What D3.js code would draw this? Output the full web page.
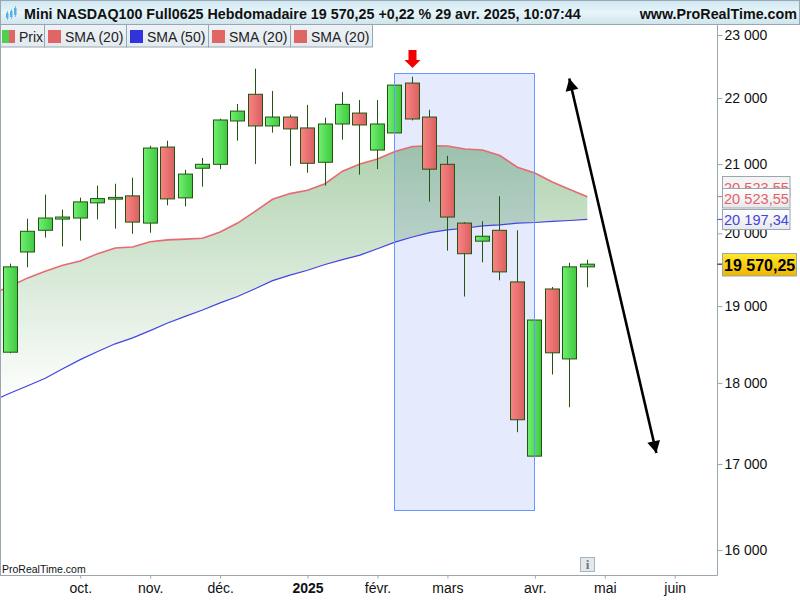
<!DOCTYPE html>
<html>
<head>
<meta charset="utf-8">
<script src="https://cdn.jsdelivr.net/npm/d3@7"></script>
<style>
html, body { margin: 0; padding: 0; background: #fff; }
svg { display: block; font-family: "Liberation Sans", Arial, sans-serif; }
</style>
</head>
<body>
<div id="chart"></div>
<script>
// weekly candles
var candleOpen = [18393, 19739, 20043, 20202, 20217, 20434, 20488, 20535, 20145, 21254, 20506, 20939, 20997, 21648, 22059, 21572, 21708, 21542, 21027, 21602, 21769, 21209, 21466, 22234, 21708, 20997, 20145, 19890, 20043, 19327, 17094, 19231, 18306, 19533];
var candleHigh = [19578, 20207, 20553, 20337, 20510, 20683, 20712, 20799, 21274, 21349, 20915, 21092, 21682, 21909, 22461, 22111, 21743, 21894, 21697, 22095, 21970, 21970, 22207, 22334, 21819, 21123, 20159, 20173, 20529, 20043, 18815, 19258, 19588, 19629];
var candleLow = [18379, 19528, 19940, 19816, 19898, 20197, 20066, 19994, 20009, 20399, 20384, 20669, 20926, 21349, 21002, 21471, 20973, 20872, 20683, 21365, 20844, 20926, 21466, 21657, 20452, 19757, 19129, 19596, 19349, 17385, 17094, 18106, 17693, 19253];
var candleClose = [19533, 20029, 20217, 20231, 20448, 20496, 20513, 20159, 21239, 20491, 20853, 20997, 21663, 21799, 21572, 21708, 21527, 21012, 21602, 21903, 21587, 21602, 22202, 21678, 20925, 20231, 19715, 19959, 19464, 17538, 18815, 18385, 19533, 19570.25];

// moving averages start one week before the first visible candle
var smaRed = [19173, 19267, 19382, 19473, 19555, 19615, 19716, 19794, 19808, 19881, 19908, 19918, 19931, 20019, 20145, 20312, 20486, 20568, 20616, 20712, 20896, 21002, 21077, 21188, 21263, 21274, 21269, 21224, 21209, 21128, 20954, 20867, 20737, 20626, 20523.55];
var smaBlue = [17776, 17871, 17964, 18059, 18180, 18297, 18402, 18502, 18580, 18675, 18776, 18864, 18949, 19043, 19129, 19235, 19345, 19420, 19486, 19565, 19633, 19695, 19784, 19876, 19949, 20009, 20048, 20072, 20105, 20120, 20145, 20153, 20168, 20182, 20197.34];

var priceTicks = [16000, 17000, 18000, 19000, 20000, 21000, 22000, 23000];
var monthTicks = [4, 8, 12, 17, 21, 25, 30, 34, 38];
var monthLabels = ["oct.", "nov.", "déc.", "2025", "févr.", "mars", "avr.", "mai", "juin"];
var legendNames = ["SMA (20)", "SMA (50)", "SMA (20)", "SMA (20)"];
var legendColors = ["#e06666", "#3333dd", "#e06666", "#e06666"];

// drawn zone and arrows, as [candle index, price]
var zoneCorners = [[21.97, 22390], [29.98, 16451]];
var arrowEnds = [[36.95, 17131], [31.97, 22305]];

var plotRight = 717.5, plotBottom = 575.5, legendBottom = 47;
var frameColor = "#9aa7b0", wickColor = "#225511";

var svg = d3.select("#chart").append("svg").attr("width", 800).attr("height", 600);
var defs = svg.append("defs");

function addGradient(id, horizontal, stops){
	var g = defs.append("linearGradient").attr("id", id)
		.attr("x1", 0).attr("y1", 0)
		.attr("x2", horizontal ? 1 : 0).attr("y2", horizontal ? 0 : 1);
	stops.forEach(function(s){
		g.append("stop").attr("offset", s[0]).attr("stop-color", s[1]);
	});
}
addGradient("upFill", true, [[0, "#70f070"], [1, "#40c840"]]);
addGradient("downFill", true, [[0, "#fa8484"], [1, "#d86060"]]);
addGradient("headFill", false, [[0, "#cfe6f1"], [0.5, "#e6f6fa"], [1, "#cfe3ec"]]);
addGradient("boxFill", false, [[0, "#ffffff"], [1, "#e8e8e8"]]);
addGradient("tagFill", false, [[0, "#ffe82a"], [1, "#eeb400"]]);
addGradient("legendFill", false, [[0, "#edf2f6"], [1, "#e3eaf0"]]);

var x = d3.scaleLinear().domain([0, 33]).range([10.3, 587.3]);
var y = d3.scaleLog().domain([16000, 23000]).range([550, 35]);

defs.append("clipPath").attr("id", "plotClip").append("rect")
	.attr("x", 1).attr("y", legendBottom).attr("width", plotRight - 1).attr("height", plotBottom - legendBottom);

var grad = defs.append("linearGradient").attr("id", "areaFill")
	.attr("gradientUnits", "userSpaceOnUse")
	.attr("x1", 0).attr("x2", 0)
	.attr("y1", y(d3.max(smaRed))).attr("y2", y(d3.min(smaBlue)));
grad.append("stop").attr("offset", 0).attr("stop-color", "#afd2af");
grad.append("stop").attr("offset", 1).attr("stop-color", "#ffffff");

var plot = svg.append("g").attr("clip-path", "url(#plotClip)").style("isolation", "isolate");

// blue zone fill goes under the area, its border over the candles
var zoneX = Math.round(x(zoneCorners[0][0])) + 0.5;
var zoneY = Math.round(y(zoneCorners[0][1])) + 0.5;
var zoneW = Math.round(x(zoneCorners[1][0]) - x(zoneCorners[0][0]));
var zoneH = Math.round(y(zoneCorners[1][1]) - y(zoneCorners[0][1]));
plot.append("rect").attr("x", zoneX).attr("y", zoneY).attr("width", zoneW).attr("height", zoneH)
	.attr("fill", "#e5ebfc");

// area between the two averages
var smaIndex = d3.range(-1, 34);
plot.append("path").datum(smaIndex)
	.attr("fill", "url(#areaFill)")
	.style("mix-blend-mode", "multiply")
	.attr("d", d3.area()
		.x(function(i){ return x(i); })
		.y0(function(i){ return y(smaBlue[i + 1]); })
		.y1(function(i){ return y(smaRed[i + 1]); }));

function drawSma(values, color, width){
	plot.append("path").datum(smaIndex)
		.attr("fill", "none").attr("stroke", color).attr("stroke-width", width)
		.attr("d", d3.line()
			.x(function(i){ return x(i); })
			.y(function(i){ return y(values[i + 1]); }));
}
drawSma(smaRed, "#e66a72", 1.6);
drawSma(smaBlue, "#4444e0", 1.2);

// candles
var candles = plot.selectAll("g.candle").data(d3.range(candleOpen.length)).join("g").attr("class", "candle");
candles.append("line")
	.attr("x1", function(i){ return Math.floor(x(i)) + 0.5; })
	.attr("x2", function(i){ return Math.floor(x(i)) + 0.5; })
	.attr("y1", function(i){ return y(candleHigh[i]); })
	.attr("y2", function(i){ return y(candleLow[i]); })
	.attr("stroke", wickColor);
candles.append("rect")
	.attr("x", function(i){ return Math.floor(x(i)) - 6.5; })
	.attr("width", 14)
	.attr("y", function(i){ return y(Math.max(candleOpen[i], candleClose[i])); })
	.attr("height", function(i){ return Math.max(1, y(Math.min(candleOpen[i], candleClose[i])) - y(Math.max(candleOpen[i], candleClose[i]))); })
	.attr("fill", function(i){ return candleClose[i] >= candleOpen[i] ? "url(#upFill)" : "url(#downFill)"; })
	.attr("stroke", wickColor);

plot.append("rect").attr("x", zoneX).attr("y", zoneY).attr("width", zoneW).attr("height", zoneH)
	.attr("fill", "none").attr("stroke", "#6699ff");

// black double arrow
function arrowHead(tip, back){
	var dx = tip[0] - back[0], dy = tip[1] - back[1];
	var len = Math.sqrt(dx * dx + dy * dy);
	var ux = dx / len, uy = dy / len;
	var bx = tip[0] - ux * 12, by = tip[1] - uy * 12;
	return [tip, [bx - uy * 6.5, by + ux * 6.5], [bx + uy * 6.5, by - ux * 6.5]];
}
var pA = [x(arrowEnds[0][0]), y(arrowEnds[0][1])];
var pB = [x(arrowEnds[1][0]), y(arrowEnds[1][1])];
plot.append("line").attr("x1", pA[0]).attr("y1", pA[1]).attr("x2", pB[0]).attr("y2", pB[1])
	.attr("stroke", "#000").attr("stroke-width", 2.6);
plot.selectAll("path.head").data([arrowHead(pA, pB), arrowHead(pB, pA)]).join("path")
	.attr("class", "head").attr("fill", "#000")
	.attr("d", function(d){ return d3.line()(d) + "Z"; });

// red marker above the top candle
var markerX = Math.floor(x(23)) + 0.5;
plot.append("path").attr("fill", "#f00000")
	.attr("d", d3.line()([[markerX - 4, 50], [markerX + 4, 50], [markerX + 4, 60], [markerX + 8, 60], [markerX, 68], [markerX - 8, 60], [markerX - 4, 60]]) + "Z");

// frame
svg.append("rect").attr("x", 0.5).attr("y", 0.5).attr("width", 799).attr("height", 24)
	.attr("fill", "url(#headFill)").attr("stroke", frameColor);
svg.append("line").attr("x1", 0.5).attr("x2", 0.5).attr("y1", 24).attr("y2", plotBottom).attr("stroke", frameColor);

// axes
var yAxis = svg.append("g").attr("transform", "translate(" + plotRight + ",0)")
	.call(d3.axisRight(y).tickValues(priceTicks).tickSize(5).tickPadding(2)
		.tickFormat(function(d){ return d3.format(",")(d).replace(",", " "); }));
yAxis.select(".domain").attr("d", "M0,24V" + plotBottom).attr("stroke", frameColor);
yAxis.selectAll(".tick line").attr("stroke", frameColor);
yAxis.selectAll("text").attr("font-size", 14).attr("fill", "#111").attr("font-family", "Liberation Sans");

var xAxis = svg.append("g").attr("transform", "translate(0," + plotBottom + ")")
	.call(d3.axisBottom(x).tickValues(monthTicks).tickSize(3).tickPadding(5)
		.tickFormat(function(d, i){ return monthLabels[i]; }));
xAxis.select(".domain").attr("d", "M0,0H" + plotRight).attr("stroke", frameColor);
xAxis.selectAll(".tick line").attr("stroke", frameColor);
xAxis.selectAll("text").attr("font-size", 14).attr("fill", "#111").attr("font-family", "Liberation Sans")
	.attr("font-weight", function(d, i){ return monthLabels[i] == "2025" ? "bold" : "normal"; });

// header
var headIcon = svg.append("g").attr("fill", "#5aaee0");
[[6, 13, 5], [10, 11, 6], [14, 8, 7]].forEach(function(c){
	headIcon.append("rect").attr("x", c[0]).attr("y", c[1]).attr("width", 2.5).attr("height", c[2]);
	headIcon.append("rect").attr("x", c[0] + 1).attr("y", c[1] - 2).attr("width", 0.8).attr("height", c[2] + 4);
});
svg.append("text").attr("x", 24).attr("y", 19).attr("font-size", 14.3).attr("font-weight", "bold").attr("fill", "#111")
	.text("Mini NASDAQ100 Full0625 Hebdomadaire 19 570,25 +0,22 % 29 avr. 2025, 10:07:44");
svg.append("text").attr("x", 797).attr("y", 19).attr("text-anchor", "end").attr("font-size", 14.3).attr("font-weight", "bold").attr("fill", "#111")
	.text("www.ProRealTime.com");

// legend
var legend = svg.append("g");
legend.append("rect").attr("x", 0.5).attr("y", 24.5).attr("width", 44).attr("height", 22.5)
	.attr("fill", "url(#legendFill)").attr("stroke", frameColor);
legend.append("rect").attr("x", 2).attr("y", 30).attr("width", 7).attr("height", 13).attr("fill", "#50d050");
legend.append("rect").attr("x", 9).attr("y", 30).attr("width", 6).attr("height", 13).attr("fill", "#e06666");
legend.append("text").attr("x", 19).attr("y", 42).attr("font-size", 14).attr("fill", "#222").text("Prix");
legendNames.forEach(function(name, i){
	var left = 44.5 + i * 82;
	legend.append("rect").attr("x", left).attr("y", 24.5).attr("width", 82).attr("height", 22.5)
		.attr("fill", "url(#legendFill)").attr("stroke", frameColor);
	legend.append("rect").attr("x", left + 3.5).attr("y", 30).attr("width", 13).attr("height", 13).attr("fill", legendColors[i]);
	legend.append("text").attr("x", left + 20.5).attr("y", 42).attr("font-size", 14).attr("fill", "#222").text(name);
});

// value boxes on the price axis
function valueBox(top, height, width, fill, stroke, label, color, baseline, bold){
	svg.append("rect").attr("x", 722.5).attr("y", top).attr("width", width).attr("height", height)
		.attr("fill", fill).attr("stroke", stroke);
	svg.append("text").attr("x", 724).attr("y", baseline).attr("font-size", bold ? 16 : 14.6)
		.attr("font-weight", bold ? "bold" : "normal").attr("fill", color).text(label);
}
function valueTick(price, color){
	svg.append("line").attr("x1", plotRight).attr("x2", 722).attr("y1", y(price)).attr("y2", y(price)).attr("stroke", color);
}
var lastRed = smaRed[smaRed.length - 1], lastBlue = smaBlue[smaBlue.length - 1], lastPrice = candleClose[candleClose.length - 1];
var frFormat = function(v){ return d3.format(",.2f")(v).replace(",", " ").replace(".", ","); };
valueTick(lastRed, "#e2636b");
valueTick(lastBlue, "#4444e0");
valueTick(lastPrice, "#000");
valueBox(176.5, 20, 67.5, "#f4f4f4", frameColor, frFormat(lastRed), "#e2636b", 193);
valueBox(188.5, 19.5, 67.5, "url(#boxFill)", frameColor, frFormat(lastRed), "#e2636b", 204);
valueBox(209.5, 20, 67.5, "url(#boxFill)", frameColor, frFormat(lastBlue), "#4444e0", 225);
valueBox(253.5, 22.5, 74, "url(#tagFill)", frameColor, frFormat(lastPrice), "#000", 270.5, true);

// bottom left credit and info button
svg.append("text").attr("x", 2).attr("y", 573).attr("font-size", 10.5).attr("fill", "#111").text("ProRealTime.com");
svg.append("rect").attr("x", 580.5).attr("y", 557.5).attr("width", 14).attr("height", 14)
	.attr("fill", "#e4e8ec").attr("stroke", "#a8b4bc");
svg.append("text").attr("x", 587.5).attr("y", 569).attr("text-anchor", "middle").attr("font-size", 13).attr("font-weight", "bold")
	.attr("font-family", "Liberation Serif").attr("fill", "#66757f").text("i");
</script>
</body>
</html>
